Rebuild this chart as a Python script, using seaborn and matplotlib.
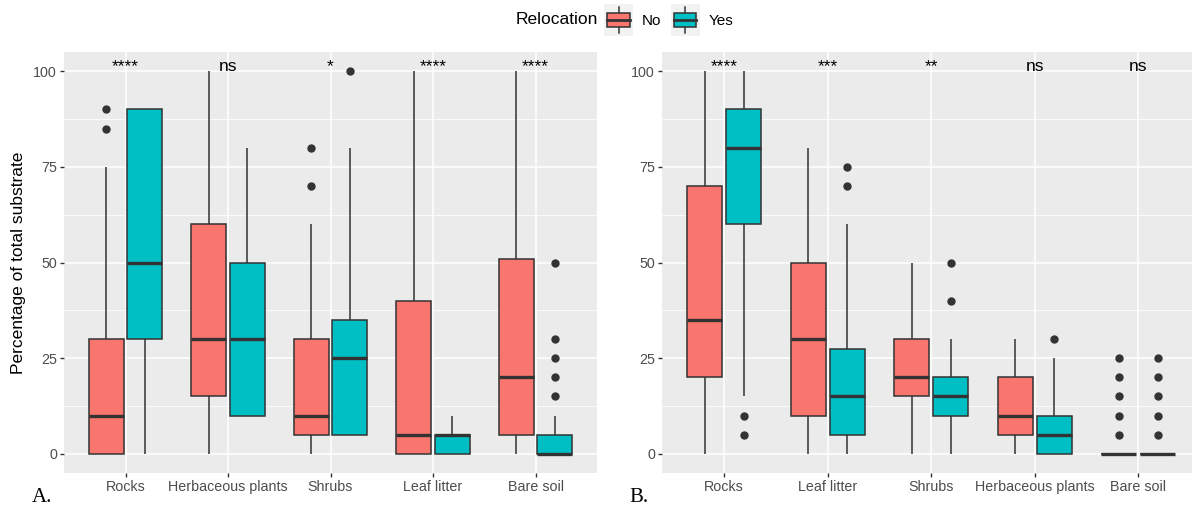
import numpy as np
import pandas as pd
import matplotlib
matplotlib.use("Agg")
import matplotlib.pyplot as plt
import seaborn as sns
from matplotlib.ticker import MultipleLocator
from matplotlib.patches import Patch, Rectangle
from matplotlib.lines import Line2D
from matplotlib.legend_handler import HandlerBase

# ---- data (percent of total substrate) ----
groups = ["No", "Yes"]

# panel A
cats_a = ["Rocks", "Herbaceous plants", "Shrubs", "Leaf litter", "Bare soil"]
a_no_lo = [0, 0, 0, 0, 0]
a_no_q1 = [0, 15, 5, 0, 5]
a_no_med = [10, 30, 10, 5, 20]
a_no_q3 = [30, 60, 30, 40, 51]
a_no_hi = [75, 100, 60, 100, 100]
a_no_out = [[85, 90], [], [70, 80], [], []]

a_yes_lo = [0, 10, 5, 0, 0]
a_yes_q1 = [30, 10, 5, 0, 0]
a_yes_med = [50, 30, 25, 5, 0]
a_yes_q3 = [90, 50, 35, 5, 5]
a_yes_hi = [90, 80, 80, 10, 10]
a_yes_out = [[], [], [100], [], [15, 20, 25, 30, 50]]

sig_a = ["****", "ns", "*", "****", "****"]

# panel B
cats_b = ["Rocks", "Leaf litter", "Shrubs", "Herbaceous plants", "Bare soil"]
b_no_lo = [0, 0, 0, 0, 0]
b_no_q1 = [20, 10, 15, 5, 0]
b_no_med = [35, 30, 20, 10, 0]
b_no_q3 = [70, 50, 30, 20, 0]
b_no_hi = [100, 80, 50, 30, 0]
b_no_out = [[], [], [], [], [5, 10, 15, 20, 25]]

b_yes_lo = [15, 0, 0, 0, 0]
b_yes_q1 = [60, 5, 10, 0, 0]
b_yes_med = [80, 15, 15, 5, 0]
b_yes_q3 = [90, 27.5, 20, 10, 0]
b_yes_hi = [100, 60, 30, 25, 0]
b_yes_out = [[5, 10], [70, 75], [40, 50], [30], [5, 10, 15, 20, 25]]

sig_b = ["****", "***", "**", "ns", "ns"]

palette = {"No": "#F8766D", "Yes": "#00BFC4"}
ink = "#333333"


# turn a read-off summary into sample values that give the same box
def expand(lo, q1, med, q3, hi, out, n=20):
    return [lo] + [q1] * n + [med] * n + [q3] * n + [hi] + list(out)


def build(cats, summaries):
    rows = []
    for grp, (lo, q1, med, q3, hi, out) in summaries.items():
        for i, cat in enumerate(cats):
            for v in expand(lo[i], q1[i], med[i], q3[i], hi[i], out[i]):
                rows.append({"substrate": cat, "Relocation": grp, "value": v})
    return pd.DataFrame(rows)


df_a = build(cats_a, {
    "No": (a_no_lo, a_no_q1, a_no_med, a_no_q3, a_no_hi, a_no_out),
    "Yes": (a_yes_lo, a_yes_q1, a_yes_med, a_yes_q3, a_yes_hi, a_yes_out),
})
df_b = build(cats_b, {
    "No": (b_no_lo, b_no_q1, b_no_med, b_no_q3, b_no_hi, b_no_out),
    "Yes": (b_yes_lo, b_yes_q1, b_yes_med, b_yes_q3, b_yes_hi, b_yes_out),
})

plt.rcParams["font.family"] = ["Liberation Sans", "DejaVu Sans"]

fig = plt.figure(figsize=(11.92, 5.09), dpi=100)
ax_a = fig.add_axes([64 / 1192, 1 - 473 / 509, 533 / 1192, 421 / 509])
ax_b = fig.add_axes([662 / 1192, 1 - 473 / 509, 530 / 1192, 421 / 509])


def panel(ax, df, cats, sig, xmax):
    sns.boxplot(
        data=df, x="substrate", y="value", hue="Relocation",
        order=cats, hue_order=groups, palette=palette,
        saturation=1, width=0.75, gap=0.1, whis=1.5,
        linecolor=ink, linewidth=1.1, fliersize=5,
        flierprops=dict(marker="o", markerfacecolor=ink, markeredgecolor=ink),
        medianprops=dict(linewidth=2.4, color=ink),
        capprops=dict(linewidth=0),
        legend=False, ax=ax,
    )
    ax.set_facecolor("#EBEBEB")
    for s in ax.spines.values():
        s.set_visible(False)
    ax.set_axisbelow(True)
    ax.set_xlim(-0.6, xmax)
    ax.set_ylim(-5, 105)
    ax.set_yticks([0, 25, 50, 75, 100])
    ax.yaxis.set_minor_locator(MultipleLocator(12.5))
    ax.grid(which="major", color="white", linewidth=1.1)
    ax.grid(which="minor", axis="y", color="white", linewidth=0.55)
    ax.tick_params(which="major", length=3, width=1, color=ink,
                   labelcolor="#4D4D4D", labelsize=10.3, pad=2)
    ax.tick_params(which="minor", length=0)
    ax.set_xlabel("")
    ax.set_ylabel("")
    for i, s in enumerate(sig):
        ax.text(i, 100, s, ha="center", va="baseline", fontsize=12.5, color="black")


panel(ax_a, df_a, cats_a, sig_a, 4.6)
panel(ax_b, df_b, cats_b, sig_b, 4.52)

ax_a.set_ylabel("Percentage of total substrate", fontsize=12.5, labelpad=5)

fig.text(32 / 1192, 1 - 498 / 509, "A.", family="Liberation Serif", fontsize=15, va="center")
fig.text(629 / 1192, 1 - 498 / 509, "B.", family="Liberation Serif", fontsize=15, va="center")


# legend keys drawn like ggplot boxplot glyphs
class BoxKey(HandlerBase):
    def create_artists(self, legend, orig_handle, xdescent, ydescent,
                       width, height, fontsize, trans):
        x0, y0 = -xdescent, -ydescent
        bg = Rectangle((x0, y0), width, height, facecolor="#F2F2F2",
                       edgecolor="none", transform=trans)
        box = Rectangle((x0 + 0.12 * width, y0 + 0.27 * height), 0.76 * width,
                        0.46 * height, facecolor=orig_handle.get_facecolor(),
                        edgecolor=ink, linewidth=1.1, transform=trans)
        xm = x0 + 0.5 * width
        w_lo = Line2D([xm, xm], [y0 + 0.1 * height, y0 + 0.27 * height],
                      color=ink, linewidth=1.1, transform=trans)
        w_hi = Line2D([xm, xm], [y0 + 0.73 * height, y0 + 0.9 * height],
                      color=ink, linewidth=1.1, transform=trans)
        med = Line2D([x0 + 0.12 * width, x0 + 0.88 * width],
                     [y0 + 0.5 * height] * 2, color=ink, linewidth=2, transform=trans)
        return [bg, w_lo, w_hi, box, med]


handles = [Patch(facecolor=palette[g]) for g in groups]
fig.text(598 / 1192, 1 - 20 / 509, "Relocation", ha="right", va="center", fontsize=12.5)
fig.legend(handles, groups, handler_map={Patch: BoxKey()},
           loc="center left", bbox_to_anchor=(604 / 1192, 1 - 20 / 509),
           ncol=2, frameon=False, fontsize=11, borderpad=0, borderaxespad=0,
           handlelength=1.9, handleheight=2.8, handletextpad=0.6, columnspacing=0.6)

fig.savefig("out.png", dpi=100)
